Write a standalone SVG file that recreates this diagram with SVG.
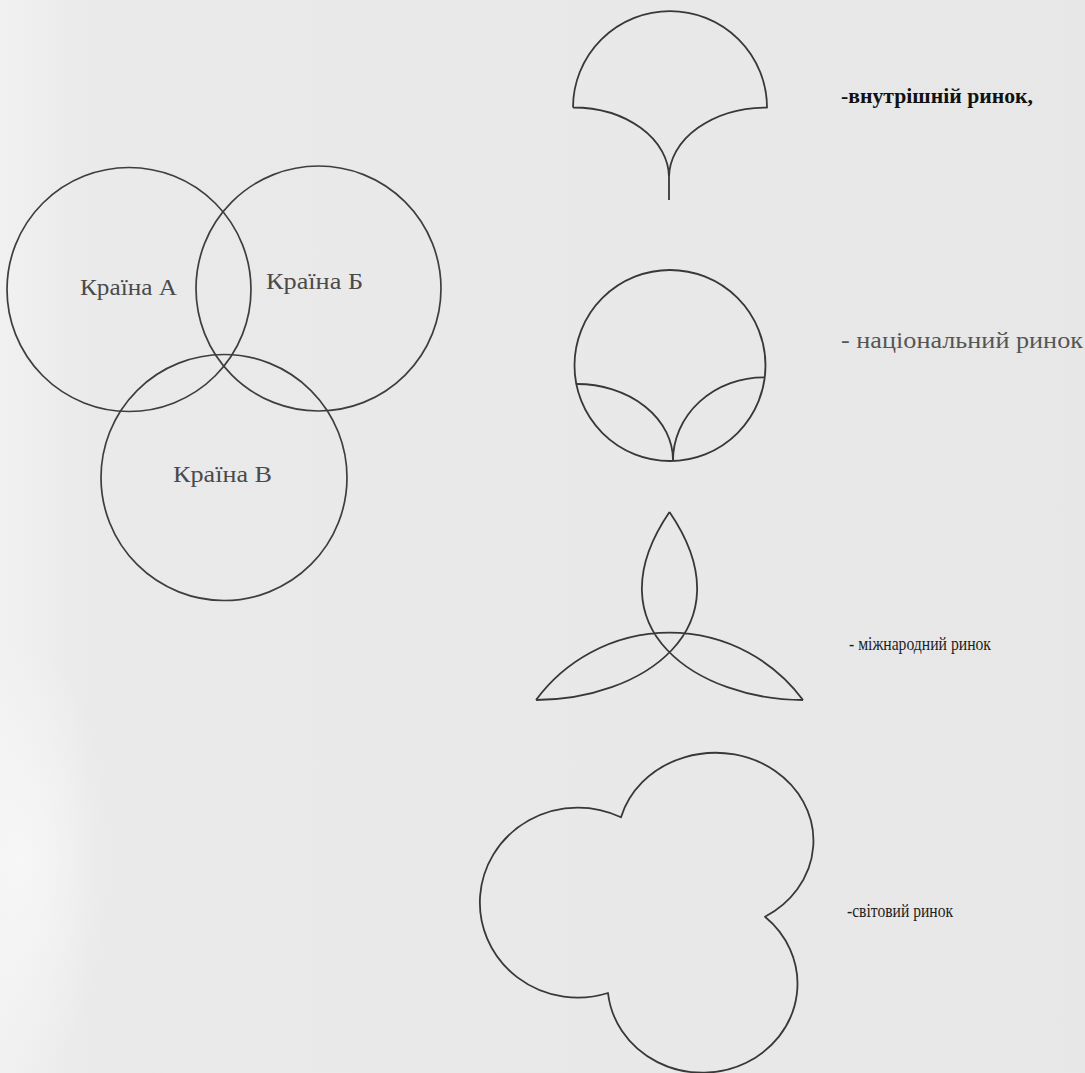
<svg xmlns="http://www.w3.org/2000/svg" width="1085" height="1073" viewBox="0 0 1085 1073">
  <defs>
    <linearGradient id="bg" x1="0" y1="0" x2="1" y2="0">
      <stop offset="0" stop-color="#f1f1f1"/>
      <stop offset="0.08" stop-color="#eaeaea"/>
      <stop offset="1" stop-color="#e7e7e7"/>
    </linearGradient>
    <radialGradient id="glow" cx="0.5" cy="0.5" r="0.5">
      <stop offset="0" stop-color="#f7f7f7" stop-opacity="0.9"/>
      <stop offset="1" stop-color="#f7f7f7" stop-opacity="0"/>
    </radialGradient>
  </defs>
  <style>
    .shape { fill: none; stroke: #383838; stroke-width: 1.8; stroke-linejoin: round; }
    .venn { fill: none; stroke: #3e3e3e; stroke-width: 1.7; }
    .country { font-family: "Liberation Serif", "Times New Roman", serif; font-size: 23px; fill: #4a4a4a; }
    .lbl { font-family: "Liberation Serif", "Times New Roman", serif; }
  </style>

  <rect x="0" y="0" width="1085" height="1073" fill="url(#bg)"/>
  <ellipse cx="20" cy="860" rx="90" ry="220" fill="url(#glow)"/>

  <!-- Venn diagram of three countries -->
  <g id="country-a">
    <circle class="venn" cx="129" cy="289.5" r="122"/>
    <text class="country" x="80" y="295" textLength="97" lengthAdjust="spacingAndGlyphs">Країна А</text>
  </g>
  <g id="country-b">
    <circle class="venn" cx="318.5" cy="288.5" r="122.5"/>
    <text class="country" x="266" y="289" textLength="97" lengthAdjust="spacingAndGlyphs">Країна Б</text>
  </g>
  <g id="country-v">
    <circle class="venn" cx="224" cy="477.5" r="123"/>
    <text class="country" x="173" y="482" textLength="99" lengthAdjust="spacingAndGlyphs">Країна В</text>
  </g>

  <!-- internal market -->
  <g id="internal-market">
    <path class="shape" d="M573,107.5 A97 96.5 0 0 1 767,107.5 A98 70 0 0 0 669,177 L669,200 M573,107.5 A96 70 0 0 1 669,177"/>
    <text class="lbl" x="841" y="103" font-size="21" font-weight="bold" fill="#111" textLength="192" lengthAdjust="spacingAndGlyphs">-внутрішній ринок,</text>
  </g>

  <!-- national market -->
  <g id="national-market">
    <circle class="shape" cx="670" cy="365.5" r="95.5"/>
    <path class="shape" d="M576.7,384 A96.3 76 0 0 1 673,460.5 M764,377.3 A91 83.2 0 0 0 673,460.5"/>
    <text class="lbl" x="841" y="348" font-size="23" fill="#555" textLength="242" lengthAdjust="spacingAndGlyphs">- національний ринок</text>
  </g>

  <!-- international market -->
  <g id="international-market">
    <path class="shape" d="M669.5,512 C589,630 700,700 803,700 M669.5,512 C750,630 639,700 536,700 M536,700 A166 166 0 0 1 803,700"/>
    <text class="lbl" x="849" y="650" font-size="19" fill="#1e1e1e" textLength="142" lengthAdjust="spacingAndGlyphs">- міжнародний ринок</text>
  </g>

  <!-- world market -->
  <g id="world-market">
    <path class="shape" d="M621,817.3 A98 88 0 1 1 765,916.7 A95 89 0 1 1 608,993 A98 95 0 1 1 621,817.3 Z"/>
    <text class="lbl" x="847" y="917" font-size="19" fill="#1e1e1e" textLength="106" lengthAdjust="spacingAndGlyphs">-світовий ринок</text>
  </g>

  <g id="connectors"/>
</svg>
